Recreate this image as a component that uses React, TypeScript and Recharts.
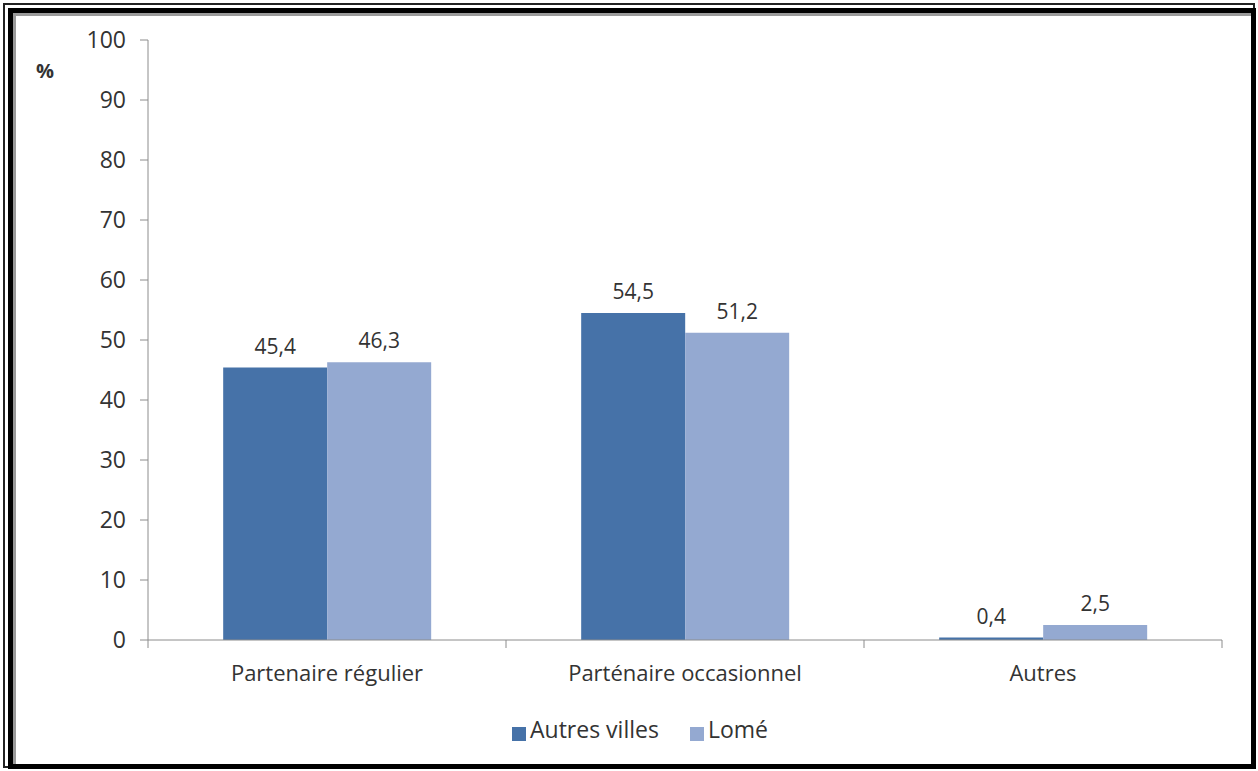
import React from "react";
import {
  BarChart,
  Bar,
  XAxis,
  YAxis,
  Legend,
  LabelList,
  Label,
} from "recharts";

const categories = ["Partenaire régulier", "Parténaire occasionnel", "Autres"];
const autresVilles = [45.4, 54.5, 0.4];
const lome = [46.3, 51.2, 2.5];
const yTicks = [0, 10, 20, 30, 40, 50, 60, 70, 80, 90, 100];

const data = categories.map((name, i) => ({
  name,
  autres: autresVilles[i],
  lome: lome[i],
}));

const FONT = "'Open Sans', 'Liberation Sans', sans-serif";
const TEXT = "#333";
const AXIS = "#8c8c8c";

const fmt = (v: any) => String(v).replace(".", ",");

const XTick = (props: any) => {
  const { x, y, payload, index, width, visibleTicksCount } = props;
  const band = width / (visibleTicksCount || categories.length);
  return (
    <g>
      {index === 0 && (
        <line x1={x - band / 2} x2={x - band / 2} y1={y} y2={y + 8} stroke={AXIS} />
      )}
      <line x1={x + band / 2} x2={x + band / 2} y1={y} y2={y + 8} stroke={AXIS} />
      <text x={x} y={y + 41} textAnchor="middle" fill={TEXT} fontSize={22} fontFamily={FONT}>
        {payload.value}
      </text>
    </g>
  );
};

export default function App() {
  return (
    <div style={{ position: "absolute", left: 0, top: 0, width: 1258, height: 771, background: "#fff" }}>
      <div
        style={{
          position: "absolute",
          left: 3,
          top: 3,
          right: 3,
          bottom: 3,
          border: "2px solid #222",
        }}
      />
      <div
        style={{
          position: "absolute",
          left: 8,
          top: 8,
          right: 2,
          bottom: 2,
          border: "5px solid #000",
          boxShadow: "inset 3px 3px 0 #9a9a9a",
        }}
      />
      <div style={{ position: "absolute", left: 0, top: 0 }}>
        <BarChart
          width={1258}
          height={771}
          data={data}
          margin={{ top: 40, right: 36, left: 0, bottom: 18 }}
          barCategoryGap="21%"
          barGap={0}
        >
          <XAxis
            dataKey="name"
            height={73}
            tickSize={0}
            tickMargin={0}
            tick={<XTick />}
            axisLine={{ stroke: AXIS }}
            interval={0}
          />
          <YAxis
            width={148}
            domain={[0, 100]}
            ticks={yTicks}
            interval={0}
            tickSize={8}
            tickMargin={14}
            axisLine={{ stroke: AXIS }}
            tickLine={{ stroke: AXIS }}
            tick={{ fill: TEXT, fontSize: 23, fontFamily: FONT }}
          >
            <Label
              content={(p: any) => (
                <text
                  x={p.viewBox.x + 45}
                  y={p.viewBox.y + 38}
                  textAnchor="middle"
                  fill={TEXT}
                  fontSize={20}
                  fontWeight="bold"
                  fontFamily={FONT}
                >
                  %
                </text>
              )}
            />
          </YAxis>
          <Legend
            verticalAlign="bottom"
            height={40}
            iconType="square"
            iconSize={14}
            wrapperStyle={{ paddingLeft: 34 }}
            formatter={(v: any, _e: any, i: number) => (
              <span
                style={{
                  color: TEXT,
                  fontSize: 23,
                  fontFamily: FONT,
                  marginRight: i === 0 ? 21 : 0,
                }}
              >
                {v}
              </span>
            )}
          />
          <Bar dataKey="autres" name="Autres villes" fill="#4672a8" isAnimationActive={false}>
            <LabelList
              dataKey="autres"
              position="top"
              offset={14}
              formatter={fmt}
              style={{ fill: TEXT, fontSize: 21, fontFamily: FONT }}
            />
          </Bar>
          <Bar dataKey="lome" name="Lomé" fill="#94a9d1" isAnimationActive={false}>
            <LabelList
              dataKey="lome"
              position="top"
              offset={14}
              formatter={fmt}
              style={{ fill: TEXT, fontSize: 21, fontFamily: FONT }}
            />
          </Bar>
        </BarChart>
      </div>
    </div>
  );
}
